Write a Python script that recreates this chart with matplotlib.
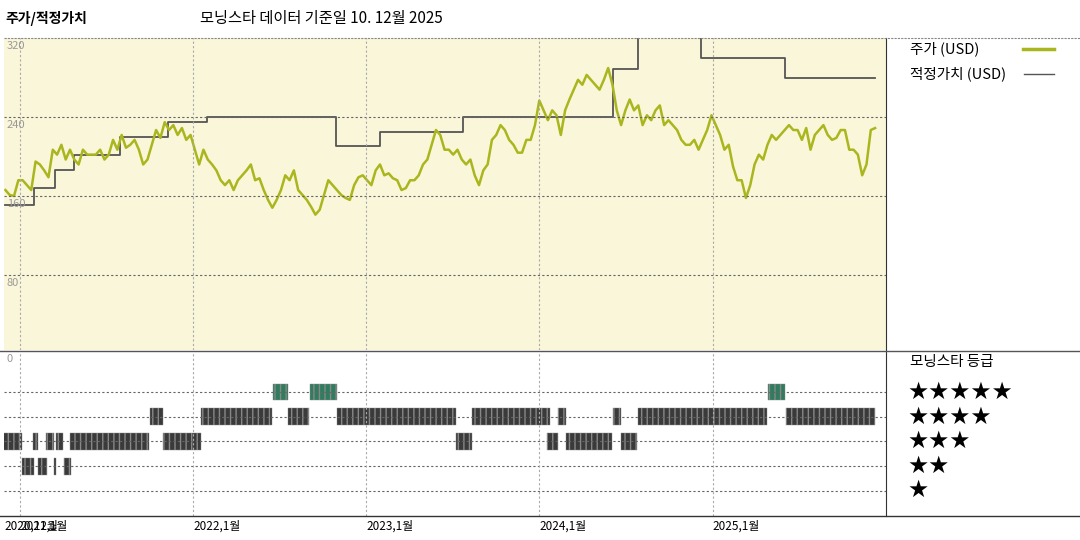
import matplotlib
matplotlib.use("Agg")
import matplotlib.pyplot as plt
import pandas as pd
import numpy as np
from datetime import datetime, timedelta

plt.rcParams['font.family'] = ['Noto Sans CJK KR', 'DejaVu Sans']

# ---- data ----
price_values = [166,161,160,176,176,171,166,195,192,186,179,207,202,212,197,207,197,192,207,202,
 202,202,207,197,202,217,207,222,209,212,217,207,192,197,212,227,219,235,227,232,
 222,229,217,222,207,192,207,197,192,186,176,171,176,166,176,181,186,192,176,178,
 166,156,148,156,166,181,176,186,166,161,156,149,141,146,161,176,171,166,161,158,
 156,171,179,181,176,171,186,192,181,183,178,176,166,168,176,176,181,192,197,212,
 227,222,207,207,202,207,197,192,197,181,171,186,192,217,222,232,227,217,212,204,
 204,217,217,232,257,247,237,247,242,222,247,258,268,278,273,283,278,273,268,278,
 290,273,247,232,247,258,247,252,232,242,237,247,252,232,237,232,227,217,212,212,
 217,207,217,227,242,232,222,207,212,190,176,176,158,171,192,202,197,212,222,217,
 222,227,232,227,227,217,229,207,222,227,232,222,217,219,227,227,207,207,202,181,
 192,227,229]
price_start, price_end = "2020-12-01", "2025-12-10"

fv_dates = ["2020-12-01","2021-01-31","2021-03-15","2021-04-24","2021-07-30","2021-11-10",
            "2022-01-30","2022-10-30","2023-01-31","2023-07-25","2024-06-05","2024-07-27",
            "2024-12-08","2025-06-03","2025-12-10"]
fv_values = [151,168,186,202,220,235,240,211,225,240,289,330,300,280,280]

ratings_5 = [(2022.459,2022.547),(2022.676,2022.829),(2025.318,2025.418)]
ratings_4 = [(2021.753,2021.824),(2022.047,2022.453),(2022.547,2022.671),(2022.829,2023.518),
             (2023.612,2024.065),(2024.112,2024.153),(2024.429,2024.471),(2024.571,2025.312),
             (2025.424,2025.941)]
ratings_3 = [(2020.906,2021.012),(2021.076,2021.106),(2021.147,2021.194),(2021.206,2021.247),
             (2021.288,2021.747),(2021.824,2022.047),(2023.518,2023.612),(2024.047,2024.112),
             (2024.153,2024.424),(2024.471,2024.565)]
ratings_2 = [(2021.012,2021.082),(2021.106,2021.153),(2021.194,2021.206),(2021.253,2021.294)]

xtick_dates = ["2021-01-01","2022-01-01","2023-01-01","2024-01-01","2025-01-01"]
xtick_labels = ["2021,1월","2022,1월","2023,1월","2024,1월","2025,1월"]
ytick_vals = [80,160,240,320]

def dy(y):
    yr = int(y)
    start = datetime(yr,1,1)
    return start + timedelta(days=(y-yr)*365.25)

# ---- figure ----
fig = plt.figure(figsize=(10.8,5.4), dpi=100)
xmin, xmax = pd.Timestamp("2020-11-28"), pd.Timestamp("2026-01-02")

ax = fig.add_axes([4/1080, 1-350/540, 882/1080, 312/540])
ax.set_facecolor('#faf6d9')
dates = pd.date_range(price_start, price_end, periods=len(price_values))
ax.plot(pd.to_datetime(fv_dates), fv_values, drawstyle='steps-post', color='#555555', lw=1.3)
ax.plot(dates, price_values, color='#aab61e', lw=1.8)
ax.set_xlim(xmin, xmax)
ax.set_ylim(3.5, 320.5)
ax.set_xticks([]); ax.set_yticks([])
for v in ytick_vals[:-1]:
    ax.axhline(v, color='#666666', ls=(0,(2,2)), lw=0.8)
for d in xtick_dates:
    ax.axvline(pd.Timestamp(d), color='#aaaaaa', ls=(0,(2,2)), lw=0.8)
for v in ytick_vals:
    ax.text(0.003, v-3, str(v), transform=ax.get_yaxis_transform(), va='top', ha='left',
            fontsize=8, color='#999999')
for s in ['top','bottom','left']:
    ax.spines[s].set_visible(False)
ax.spines['right'].set_color('#333333')

ax2 = fig.add_axes([4/1080, 1-516/540, 882/1080, 164/540])
ax2.set_xlim(xmin, xmax)
ax2.set_ylim(0, 6.6)
ax2.set_xticks([]); ax2.set_yticks([])
for lvl in range(1,6):
    ax2.axhline(lvl, color='#666666', ls=(0,(2,2)), lw=0.8)
for d in xtick_dates:
    ax2.axvline(pd.Timestamp(d), color='#aaaaaa', ls=(0,(2,2)), lw=0.8)
for lvl, segs, col in [(5, ratings_5, '#2f7d5e'), (4, ratings_4, '#3a3a3a'),
                       (3, ratings_3, '#3a3a3a'), (2, ratings_2, '#3a3a3a')]:
    for a, b in segs:
        ax2.axvspan(dy(a), dy(b), ymin=(lvl-0.33)/6.6, ymax=(lvl+0.33)/6.6,
                    facecolor=col, edgecolor='#888888', lw=0.3, hatch='|||')
ax2.text(0.003, 6.3, "0", transform=ax2.get_yaxis_transform(), fontsize=8, color='#999999', va='center')
for s in ['top','bottom','left']:
    ax2.spines[s].set_visible(False)
ax2.spines['right'].set_color('#333333')

# x labels
ax2.text(xmin, -0.15, "2020,12월", fontsize=8.5, va='top', ha='left')
for d, l in zip(xtick_dates, xtick_labels):
    ax2.text(pd.Timestamp(d), -0.15, l, fontsize=8.5, va='top', ha='left')

# frame lines
fig.add_artist(plt.Line2D([4/1080,1],[1-38/540]*2, color='#888888', ls=(0,(2,1)), lw=0.8))
fig.add_artist(plt.Line2D([0,1],[1-351/540]*2, color='#555555', lw=1))
fig.add_artist(plt.Line2D([0,1],[1-516/540]*2, color='#333333', lw=1))

# titles
fig.text(5/1080, 1-18/540, "주가/적정가치", fontsize=10, fontweight='bold', va='center')
fig.text(200/1080, 1-19/540, "모닝스타 데이터 기준일 10. 12월 2025", fontsize=11, va='center')

# legend
fig.text(910/1080, 1-49/540, "주가 (USD)", fontsize=10.5, va='center')
fig.add_artist(plt.Line2D([1023/1080,1054/1080],[1-49/540]*2, color='#aab61e', lw=2.5))
fig.text(910/1080, 1-74/540, "적정가치 (USD)", fontsize=10.5, va='center')
fig.add_artist(plt.Line2D([1024/1080,1054/1080],[1-74/540]*2, color='#555555', lw=1))

fig.text(910/1080, 1-362/540, "모닝스타 등급", fontsize=10.5, va='center')
for i, n in enumerate([5,4,3,2,1]):
    fig.text(907/1080, 1-(392+i*24.5)/540, "★"*n, fontsize=17, va='center',
             family=['DejaVu Sans'])

fig.savefig("out.png", dpi=100)
